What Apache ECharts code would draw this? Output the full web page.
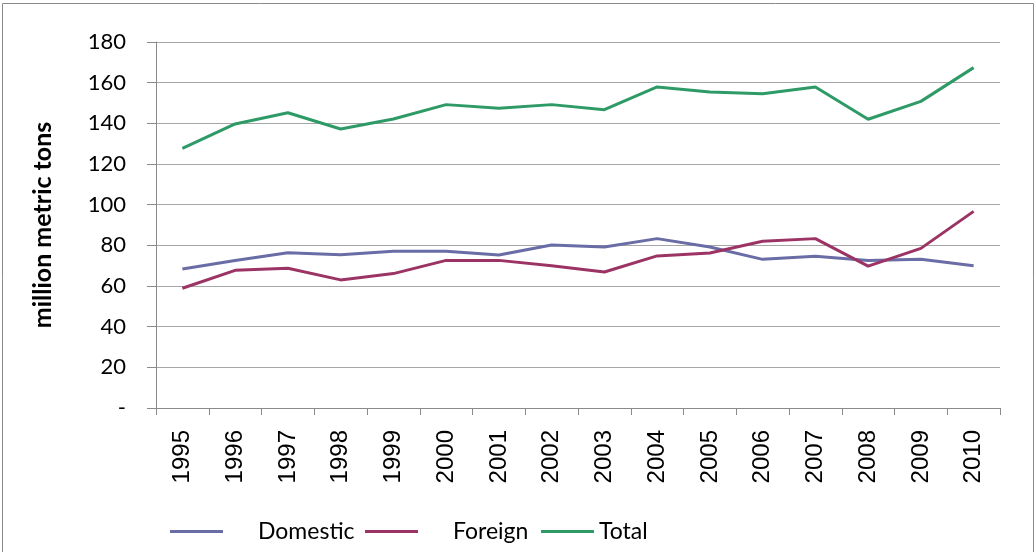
<!DOCTYPE html>
<html>
<head>
<meta charset="utf-8">
<script src="https://cdn.jsdelivr.net/npm/echarts@6/dist/echarts.min.js"></script>
<style>html,body{margin:0;padding:0;background:#fff;}#c{width:1036px;height:552px;}</style>
</head>
<body>
<div id="c"></div>
<script>
const years = ['1995','1996','1997','1998','1999','2000','2001','2002','2003','2004','2005','2006','2007','2008','2009','2010'];
const domestic = [68.4,72.5,76.4,75.4,77.1,77.1,75.2,80.2,79.2,83.3,79.2,73.1,74.6,72.5,73.1,70.0];
const foreign  = [58.9,67.7,68.7,63.0,66.1,72.6,72.6,70.0,66.9,74.8,76.2,82.0,83.3,69.8,78.5,96.7];
const total    = [127.7,139.7,145.2,137.2,142.1,149.2,147.4,149.2,146.7,157.9,155.4,154.6,157.9,142.0,150.8,167.4];
const yTickLabels = ['-','20','40','60','80','100','120','140','160','180'];
const seriesNames = ['Domestic','Foreign','Total'];
const colors = ['#6A6CA6','#9B3465','#2E9A66'];

const chart = echarts.init(document.getElementById('c'));
const legendBase = {
  orient:'horizontal', top:520, padding:0, itemWidth:53, itemHeight:14, icon:'path://M0,6 L53,6 L53,9 L0,9 Z',
  textStyle:{fontFamily:'Lato', fontSize:23, color:'#000'}
};
chart.setOption({
  animation:false,
  graphic:[{type:'rect', shape:{x:2.5,y:3.5,width:1031,height:600}, style:{fill:'none', stroke:'#8a8a8a', lineWidth:1}, silent:true}],
  color: colors,
  grid:{left:156, right:36, top:42, bottom:144},
  legend:[
    Object.assign({}, legendBase, {left:170, data:[seriesNames[0]], textStyle:Object.assign({}, legendBase.textStyle, {padding:[0,0,0,30]})}),
    Object.assign({}, legendBase, {left:365, data:[seriesNames[1]], textStyle:Object.assign({}, legendBase.textStyle, {padding:[0,0,0,30]})}),
    Object.assign({}, legendBase, {left:541, data:[seriesNames[2]], textStyle:Object.assign({}, legendBase.textStyle, {padding:[0,0,0,0]})})
  ],
  xAxis:{
    type:'category', data:years, boundaryGap:true,
    axisLine:{lineStyle:{color:'#8a8a8a', width:1}},
    axisTick:{show:true, length:7, alignWithLabel:false, lineStyle:{color:'#8a8a8a'}},
    axisLabel:{rotate:90, margin:22, fontFamily:'Liberation Sans', fontSize:24, color:'#000', interval:0}
  },
  yAxis:{
    type:'value', min:0, max:180, interval:20,
    name:'million metric tons', nameLocation:'middle', nameGap:101, nameRotate:90,
    nameTextStyle:{fontFamily:'Lato', fontWeight:'bold', fontSize:25, color:'#000'},
    axisLine:{show:true, lineStyle:{color:'#8a8a8a', width:1}},
    axisTick:{show:true, length:9, lineStyle:{color:'#8a8a8a'}},
    axisLabel:{margin:30, fontFamily:'Lato', fontSize:22, color:'#000',
      formatter:(v)=> yTickLabels[Math.round(v/20)]},
    splitLine:{show:true, lineStyle:{color:'#a6a6a6', width:1}}
  },
  series:[
    {name:seriesNames[0], type:'line', data:domestic, symbol:'none', lineStyle:{width:3, color:colors[0]}, itemStyle:{color:colors[0]}},
    {name:seriesNames[1], type:'line', data:foreign, symbol:'none', lineStyle:{width:3, color:colors[1]}, itemStyle:{color:colors[1]}},
    {name:seriesNames[2], type:'line', data:total, symbol:'none', lineStyle:{width:3, color:colors[2]}, itemStyle:{color:colors[2]}}
  ]
});
</script>
</body>
</html>
